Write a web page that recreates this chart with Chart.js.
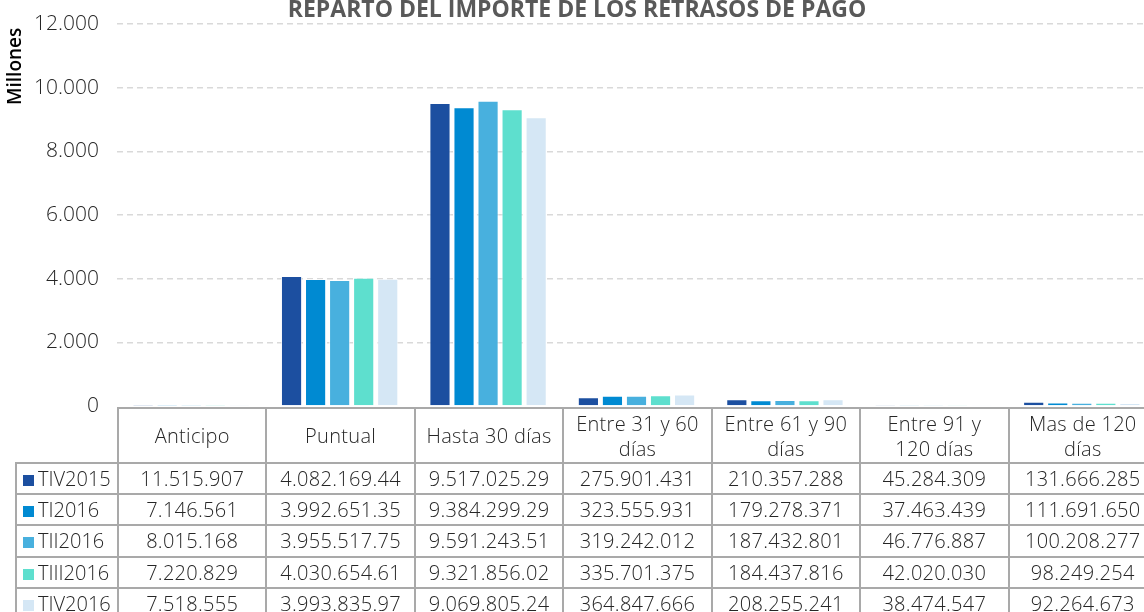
<!DOCTYPE html>
<html lang="es">
<head>
    <meta charset=utf-8>
    <title>Reparto del importe de los retrasos de pago</title>
    <script src="https://cdn.jsdelivr.net/npm/chart.js@4.4.1/dist/chart.umd.min.js"></script>
    <style>
        body { margin: 0; overflow: hidden; background: #fff; font-family: "Open Sans", sans-serif; color: #262626; }
        #wrap { position: relative; width: 1144px; height: 612px; overflow: hidden; }
        #chart { position: absolute; left: 0; top: 0; }
        #title { position: absolute; left: 0; width: 1154px; top: -8px; text-align: center; font-weight: 700; font-size: 23px; color: #595959; white-space: nowrap; }
        #unit { position: absolute; left: 3px; top: 105px; transform-origin: 0 0; transform: rotate(-90deg); font-size: 19px; line-height: 22px; font-weight: 600; color: #000; white-space: nowrap; }
        #table { position: absolute; left: 15px; top: 407px; border-collapse: collapse; table-layout: fixed; font-size: 20px; font-weight: 300; letter-spacing: 0.3px; }
        #table td { border: 2px solid #a9a9a9; text-align: center; padding: 0; white-space: nowrap; }
        #table tr.head td { line-height: 25px; }
        #table td.blank { border: none; }
        #table td.leg { text-align: left; padding-left: 6px; letter-spacing: 0; }
        .sw { display: inline-block; width: 11px; height: 11px; margin-right: 4px; vertical-align: 0; }
    </style>
</head>
<body>
<div id="wrap">
    <canvas id="chart" width="1156" height="612"></canvas>
    <div id="title">REPARTO DEL IMPORTE DE LOS RETRASOS DE PAGO</div>
    <div id="unit">Millones</div>
    <table id="table"></table>
</div>
<script>
    var categories = ['Anticipo', 'Puntual', 'Hasta 30 días', ['Entre 31 y 60', 'días'],
        ['Entre 61 y 90', 'días'], ['Entre 91 y', '120 días'], ['Mas de 120', 'días']];
    var series = ['TIV2015', 'TI2016', 'TII2016', 'TIII2016', 'TIV2016'];
    var colors = ['#1c4fa0', '#008ad2', '#48b0de', '#5edfce', '#d5e7f5'];

    // bar heights, in millions
    var valuesTIV2015 = [11.5, 4082.2, 9517.0, 275.9, 210.4, 45.3, 131.7];
    var valuesTI2016 = [7.1, 3992.7, 9384.3, 323.6, 179.3, 37.5, 111.7];
    var valuesTII2016 = [8.0, 3955.5, 9591.2, 319.2, 187.4, 46.8, 100.2];
    var valuesTIII2016 = [7.2, 4030.7, 9321.9, 335.7, 184.4, 42.0, 98.2];
    var valuesTIV2016 = [7.5, 3993.8, 9069.8, 364.8, 208.3, 38.5, 92.3];

    // texts of the data table under the chart
    var tableTIV2015 = ['11.515.907', '4.082.169.44', '9.517.025.29', '275.901.431', '210.357.288', '45.284.309', '131.666.285'];
    var tableTI2016 = ['7.146.561', '3.992.651.35', '9.384.299.29', '323.555.931', '179.278.371', '37.463.439', '111.691.650'];
    var tableTII2016 = ['8.015.168', '3.955.517.75', '9.591.243.51', '319.242.012', '187.432.801', '46.776.887', '100.208.277'];
    var tableTIII2016 = ['7.220.829', '4.030.654.61', '9.321.856.02', '335.701.375', '184.437.816', '42.020.030', '98.249.254'];
    var tableTIV2016 = ['7.518.555', '3.993.835.97', '9.069.805.24', '364.847.666', '208.255.241', '38.474.547', '92.264.673'];

    var yTicks = [0, 2000, 4000, 6000, 8000, 10000, 12000];

    var values = [valuesTIV2015, valuesTI2016, valuesTII2016, valuesTIII2016, valuesTIV2016];
    var tables = [tableTIV2015, tableTI2016, tableTII2016, tableTIII2016, tableTIV2016];

    var PLOT_LEFT = 117;
    var COL_W = (1156 - PLOT_LEFT) / categories.length;

    function dots(n) {
        return String(n).replace(/\B(?=(\d{3})+(?!\d))/g, '.');
    }

    var datasets = series.map(function (name, i) {
        return {
            label: name,
            data: values[i],
            backgroundColor: colors[i],
            borderColor: 'rgba(255,255,255,0.7)',
            borderWidth: 1,
            categoryPercentage: 0.81,
            barPercentage: 0.88
        };
    });

    var ctx = document.getElementById('chart').getContext('2d');
    new Chart(ctx, {
        type: 'bar',
        data: {labels: categories, datasets: datasets},
        options: {
            responsive: false,
            devicePixelRatio: 1,
            animation: false,
            layout: {padding: {top: 24, bottom: 206, left: 0, right: 0}},
            plugins: {legend: {display: false}, title: {display: false}, tooltip: {enabled: false}},
            scales: {
                x: {display: false},
                y: {
                    min: 0,
                    max: 12000,
                    afterFit: function (scale) {
                        scale.width = PLOT_LEFT;
                        scale.paddingTop = 0;
                        scale.paddingBottom = 0;
                    },
                    afterBuildTicks: function (scale) {
                        scale.ticks = yTicks.map(function (v) { return {value: v}; });
                    },
                    grid: {
                        // the zero line is the table's top border
                        color: function (c) { return c.tick && c.tick.value === 0 ? 'rgba(0,0,0,0)' : '#d9d9d9'; },
                        lineWidth: 1.5,
                        drawTicks: false
                    },
                    border: {display: false, dash: [6, 4]},
                    ticks: {
                        padding: 18,
                        color: '#262626',
                        font: {family: 'Open Sans', size: 21, weight: '300'},
                        callback: function (v) { return dots(v); }
                    }
                }
            }
        }
    });

    // data table
    var html = '<colgroup><col style="width:' + (PLOT_LEFT - 15) + 'px">';
    categories.forEach(function () { html += '<col style="width:' + COL_W + 'px">'; });
    html += '</colgroup><tr class="head" style="height:55px"><td class="blank"></td>';
    categories.forEach(function (c) {
        html += '<td>' + (Array.isArray(c) ? c.join('<br>') : c) + '</td>';
    });
    html += '</tr>';
    series.forEach(function (name, i) {
        html += '<tr style="height:31.2px"><td class="leg"><span class="sw" style="background:' + colors[i] + '"></span>' + name + '</td>';
        tables[i].forEach(function (t) { html += '<td>' + t + '</td>'; });
        html += '</tr>';
    });
    var table = document.getElementById('table');
    table.innerHTML = html;
    table.style.width = (PLOT_LEFT - 15 + COL_W * categories.length) + 'px';
</script>
</body>
</html>
